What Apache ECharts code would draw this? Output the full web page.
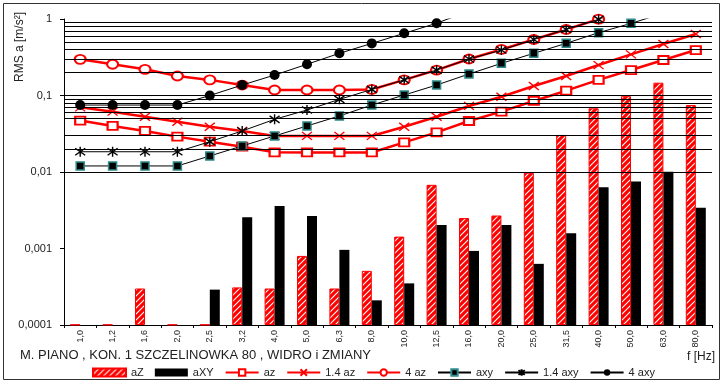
<!DOCTYPE html>
<html><head><meta charset="utf-8">
<script src="https://cdn.jsdelivr.net/npm/echarts@6/dist/echarts.min.js"></script>
<style>html,body{margin:0;padding:0;background:#fff}#c{width:725px;height:389px}</style>
</head><body><div id="c"></div>
<script>
const categories = ['1,0','1,2','1,6','2,0','2,5','3,2','4,0','5,0','6,3','8,0','10,0','12,5','16,0','20,0','25,0','31,5','40,0','50,0','63,0','80,0'];
const barZ  = [0.000101,0.000101,0.0003,0.000101,0.000101,0.00031,0.0003,0.0008,0.0003,0.00051,0.00143,0.0068,0.0025,0.0027,0.0098,0.0305,0.068,0.098,0.147,0.075];
const barXY = [null,null,null,null,0.00029,0.00256,0.0036,0.00266,0.00096,0.00021,0.00035,0.00203,0.00093,0.00203,0.00063,0.00158,0.0063,0.0075,0.0101,0.0034];
const az    = [0.047,0.040,0.0344,0.029,0.0249,0.0214,0.0181,0.018,0.018,0.018,0.0244,0.033,0.0464,0.0615,0.0848,0.1156,0.16,0.215,0.291,0.393];
const az14  = [0.07,0.0615,0.0528,0.0454,0.039,0.0344,0.0296,0.0296,0.0296,0.0296,0.039,0.0528,0.073,0.0964,0.133,0.18,0.25,0.345,0.471,0.637];
const az4   = [0.297,0.256,0.22,0.18,0.16,0.137,0.118,0.118,0.118,0.12,0.16,0.215,0.3,0.40,0.54,0.73,0.995,null,null,null];
const axy   = [0.012,0.012,0.012,0.012,0.0162,0.0219,0.0296,0.040,0.054,0.075,0.1015,0.137,0.191,0.263,0.356,0.481,0.662,0.877,1.19,null];
const axy14 = [0.0184,0.0184,0.0184,0.0184,0.0249,0.0344,0.0488,0.0646,0.089,0.12,0.16,0.215,0.3,0.393,0.54,0.73,0.99,1.33,null,null];
const axy4  = [0.075,0.075,0.075,0.075,0.1,0.137,0.185,0.256,0.356,0.48,0.65,0.88,1.27,null,null,null,null,null,null,null];
const yTickValues = [1,0.1,0.01,0.001,0.0001];
const yTickLabels = ['1','0,1','0,01','0,001','0,0001'];
const gridValues = [0.9,0.8,0.7,0.6,0.5,0.4,0.3,0.2,0.1,0.09,0.08,0.07,0.06,0.05,0.03,0.02,0.01,0.009,0.008,0.007,0.006,0.004,0.003,0.0008,0.0006,0.0005];
const titleText = 'M. PIANO , KON. 1 SZCZELINOWKA 80 , WIDRO i ZMIANY';
const yName = 'RMS a [m/s²]';
const xName = 'f [Hz]';

function hatch(){
  const c=document.createElement('canvas');c.width=6;c.height=6;
  const g=c.getContext('2d');g.fillStyle='#ff0000';g.fillRect(0,0,6,6);
  g.strokeStyle='#ffffff';g.lineWidth=1.1;g.beginPath();
  g.moveTo(0,6);g.lineTo(6,0);g.moveTo(-3,3);g.lineTo(3,-3);g.moveTo(3,9);g.lineTo(9,3);g.stroke();
  return c;
}
const FONT='Liberation Sans';
const chart=echarts.init(document.getElementById('c'),null,{renderer:'canvas'});
function lbl(v){
  for(let i=0;i<yTickValues.length;i++){ if(Math.abs(Math.log10(v)-Math.log10(yTickValues[i]))<1e-6) return yTickLabels[i]; }
  return '';
}
const xMark='path://M0,0L10,10M10,0L0,10';
const star='path://M5,0L5,10M0.7,1.5L9.3,8.5M9.3,1.5L0.7,8.5';
chart.setOption({
  animation:false,
  textStyle:{fontFamily:FONT},
  grid:{left:64,right:13,top:19,bottom:64,containLabel:false},
  xAxis:{type:'category',data:categories,boundaryGap:true,
    axisLine:{lineStyle:{color:'#000',width:1}},
    axisTick:{show:true,length:3,lineStyle:{color:'#000'}},
    axisLabel:{rotate:90,fontSize:9,color:'#222',margin:5,fontFamily:FONT},
    splitLine:{show:false}},
  yAxis:{type:'log',logBase:10,min:0.0001,max:1,startValue:0.0001,
    axisLine:{show:true,lineStyle:{color:'#000',width:1}},
    axisTick:{show:true,length:4,lineStyle:{color:'#000'}},
    axisLabel:{formatter:lbl,fontSize:11,color:'#222',margin:12,fontFamily:FONT},
    splitLine:{show:false},minorTick:{show:false}},
  legend:{left:92,top:367,itemWidth:33,itemHeight:8,itemGap:11,padding:0,
    textStyle:{fontSize:11,color:'#222',fontFamily:FONT},
    data:[{name:'aZ',icon:'rect'},{name:'aXY',icon:'rect'},'az','1.4 az','4 az','axy','1.4 axy','4 axy']},
  graphic:[
    {type:'rect',shape:{x:3.5,y:3.5,width:716,height:376},style:{fill:'none',stroke:'#333',lineWidth:1},z:-10},
    {type:'text',x:20,y:47,rotation:Math.PI/2,style:{text:yName,font:'12px "Liberation Sans"',fill:'#222',align:'center',verticalAlign:'middle'}},
    {type:'text',x:20,y:355,style:{text:titleText,font:'13px "Liberation Sans"',fill:'#222',align:'left',verticalAlign:'middle'}},
    {type:'text',x:715,y:357,style:{text:xName,font:'12px "Liberation Sans"',fill:'#222',align:'right',verticalAlign:'middle'}}
  ],
  series:[
    {name:'grid',type:'line',data:[],z:1,silent:true,
      markLine:{silent:true,symbol:['none','none'],label:{show:false},animation:false,
        lineStyle:{color:'#000',width:1,type:'solid'},emphasis:{disabled:true},
        data:gridValues.map(v=>({yAxis:v}))}},
    {name:'aZ',type:'bar',data:barZ,barWidth:10,barGap:'0%',z:2,
      itemStyle:{color:{image:hatch(),repeat:'repeat'},borderColor:'#ff0000',borderWidth:1}},
    {name:'aXY',type:'bar',data:barXY,barWidth:10,barGap:'0%',z:2,itemStyle:{color:'#000'}},
    {name:'az',type:'line',data:az,z:3,symbol:'emptyRect',symbolSize:[10,8],
      lineStyle:{color:'#ff0000',width:2.5},itemStyle:{color:'#ff0000',borderWidth:1.3}},
    {name:'1.4 az',type:'line',data:az14,z:3,symbol:xMark,symbolSize:[10,8],
      lineStyle:{color:'#ff0000',width:2.5},itemStyle:{color:'#ff0000',borderColor:'#ff0000',borderWidth:1.3}},
    {name:'4 az',type:'line',data:az4,z:3,symbol:'emptyCircle',symbolSize:[11,9],
      lineStyle:{color:'#ff0000',width:2.5},itemStyle:{color:'#ff0000',borderWidth:1.3}},
    {name:'axy',type:'line',data:axy,z:4,symbol:'rect',symbolSize:8,
      lineStyle:{color:'#000',width:1},itemStyle:{color:'#000',borderColor:'#2e8b8b',borderWidth:1.5}},
    {name:'1.4 axy',type:'line',data:axy14,z:4,symbol:star,symbolSize:10,
      lineStyle:{color:'#000',width:1},itemStyle:{color:'#000',borderColor:'#000',borderWidth:1.4}},
    {name:'4 axy',type:'line',data:axy4,z:4,symbol:'circle',symbolSize:10,
      lineStyle:{color:'#000',width:1},itemStyle:{color:'#000'}}
  ]
});
</script></body></html>
